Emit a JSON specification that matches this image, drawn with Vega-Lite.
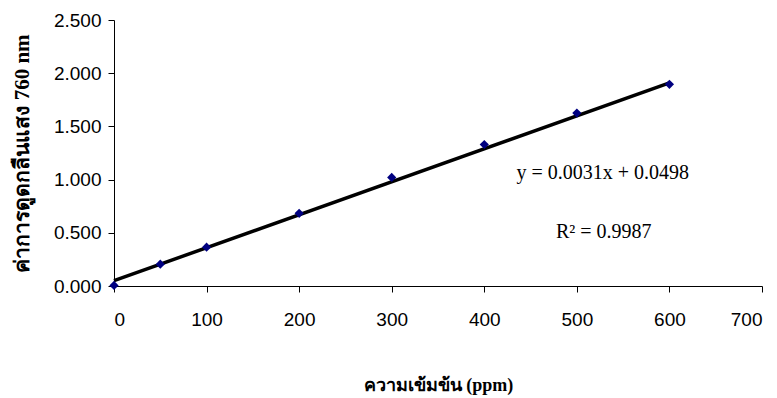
{
  "$schema": "https://vega.github.io/schema/vega-lite/v6.json",
  "width": 648,
  "height": 266,
  "autosize": {"type": "none"},
  "padding": {"left": 114, "top": 20, "right": 15, "bottom": 112},
  "background": "white",
  "config": {
    "view": {"stroke": null},
    "axis": {
      "grid": false,
      "domainColor": "black",
      "domainWidth": 1,
      "tickColor": "black",
      "tickWidth": 1,
      "tickSize": 6,
      "labelColor": "black",
      "labelFont": "Liberation Sans Narrow, Liberation Sans",
      "labelFontSize": 19,
      "titleColor": "black",
      "titleFont": "Liberation Serif",
      "titleFontWeight": "bold",
      "titleFontSize": 18
    }
  },
  "datasets": {
    "points": [
      {"x": 0, "y": 0.005},
      {"x": 50, "y": 0.205},
      {"x": 100, "y": 0.365},
      {"x": 200, "y": 0.683},
      {"x": 300, "y": 1.02},
      {"x": 400, "y": 1.33},
      {"x": 500, "y": 1.625},
      {"x": 600, "y": 1.895}
    ],
    "trend": [
      {"x": 0, "y": 0.0498},
      {"x": 600, "y": 1.9098}
    ],
    "labels": [
      {"x": 528, "y": 1.062, "label": "y = 0.0031x + 0.0498"},
      {"x": 529, "y": 0.508, "label": "R² = 0.9987"}
    ]
  },
  "layer": [
    {
      "data": {"name": "trend"},
      "mark": {"type": "line", "color": "black", "strokeWidth": 3.5},
      "encoding": {
        "x": {
          "field": "x", "type": "quantitative",
          "scale": {"domain": [0, 700], "nice": false, "zero": false},
          "axis": {
            "values": [0, 100, 200, 300, 400, 500, 600, 700],
            "labelPadding": 18,
            "title": "ความเข้มข้น (ppm)",
            "titleX": 324,
            "titleY": 99,
            "titleBaseline": "middle",
            "titleAlign": "center"
          }
        },
        "y": {
          "field": "y", "type": "quantitative",
          "scale": {"domain": [0, 2.5], "nice": false},
          "axis": {
            "values": [0, 0.5, 1, 1.5, 2, 2.5],
            "format": ".3f",
            "labelPadding": 7,
            "title": "ค่าการดูดกลืนแสง  760 nm",
            "titleFontSize": 21,
            "titleAngle": -90,
            "titleX": -92,
            "titleY": 133,
            "titleAlign": "center",
            "titleBaseline": "middle"
          }
        }
      }
    },
    {
      "data": {"name": "points"},
      "mark": {"type": "point", "shape": "diamond", "filled": true, "color": "#000080", "opacity": 1, "size": 85},
      "encoding": {
        "x": {"field": "x", "type": "quantitative"},
        "y": {"field": "y", "type": "quantitative"}
      }
    },
    {
      "data": {"name": "labels"},
      "mark": {"type": "text", "font": "Liberation Serif", "fontSize": 20, "align": "center", "baseline": "middle", "color": "black"},
      "encoding": {
        "x": {"field": "x", "type": "quantitative"},
        "y": {"field": "y", "type": "quantitative"},
        "text": {"field": "label"}
      }
    }
  ]
}
